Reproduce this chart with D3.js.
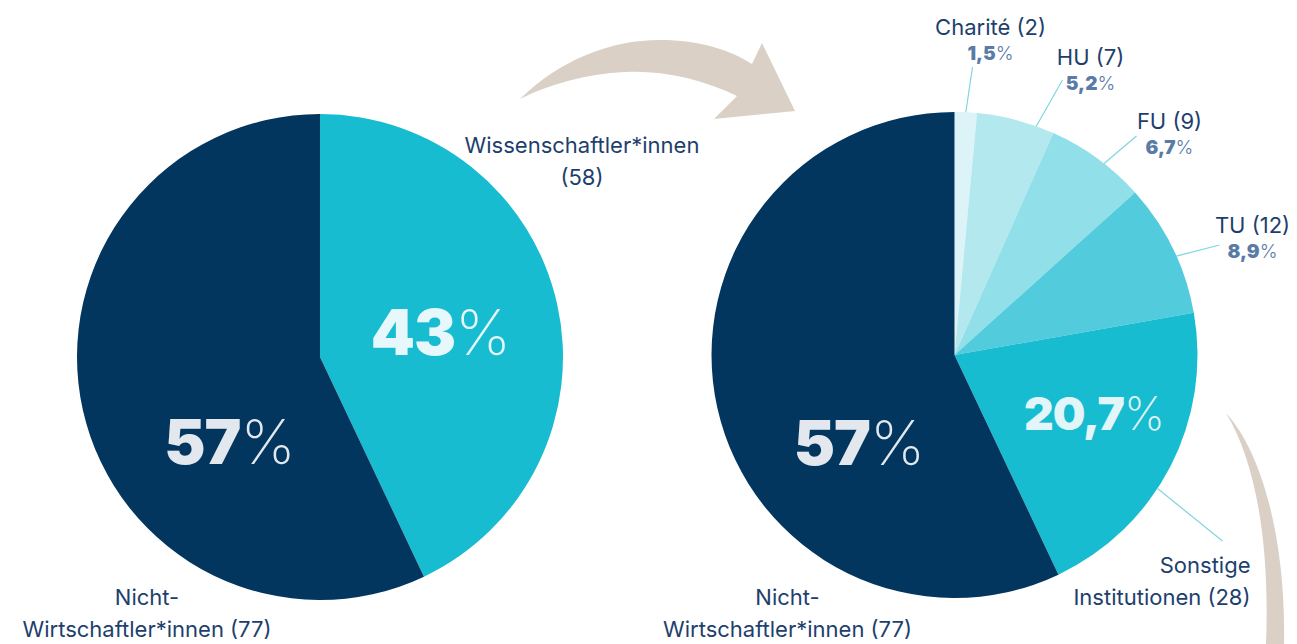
<!DOCTYPE html>
<html>
<head>
<meta charset="utf-8">
<script src="https://cdn.jsdelivr.net/npm/d3@7"></script>
<style>
  html, body { margin: 0; padding: 0; background: #fff; }
  svg { display: block; font-family: Inter, "Noto Sans", sans-serif; }
  .name { fill: #1e3f6d; font-size: 22px; }
  .small-pct { fill: #5b7ba7; font-size: 19px; }
  .big-pct { font-size: 63px; }
</style>
</head>
<body>
<svg id="chart" width="1297" height="644"></svg>
<script>
(function (d3) {

    /***** Data *****/
    var overviewNames = ["Wissenschaftler*innen", "Nicht-Wirtschaftler*innen"];
    var overviewCounts = [58, 77];

    var instNames = ["Charité", "HU", "FU", "TU", "Sonstige Institutionen", "Nicht-Wirtschaftler*innen"];
    var instCounts = [2, 7, 9, 12, 28, 77];

    /***** Configuration *****/
    var radius = 243;
    var leftCenter = [320, 357];
    var rightCenter = [954.5, 355];

    var overviewColors = ["#17bcd0", "#02365f"];
    var instColors = ["#dcf3f7", "#b3e8ef", "#91dfe9", "#52cbdc", "#17bcd0", "#02365f"];

    var svg = d3.select("#chart");

    /***** Decorative arrows *****/
    svg.append("path")
       .attr("d", "M520,99 C560,60 610,40 660,40 C700,40 730,50 752,64 L762,43 L795,111 L714,119 L737,96 C700,78 660,70 625,72 C585,74 550,84 520,99 Z")
       .attr("fill", "#dad0c5");
    svg.append("path")
       .attr("d", "M1226,413 C1262,452 1286,540 1284,644 L1266,644 C1270,545 1256,462 1226,413 Z")
       .attr("fill", "#dad0c5");

    var pie = d3.pie().sort(null).value(function (d) { return d; });
    var arc = d3.arc().innerRadius(0).outerRadius(radius);

    function fmtShare(v, total, digits) {
        return d3.format("." + digits + "f")(v / total * 100).replace(".", ",");
    }

    function bigLabel(g, text, x, y, color, size) {
        var t = g.append("text")
                 .attr("class", "big-pct")
                 .attr("x", x).attr("y", y)
                 .attr("text-anchor", "middle")
                 .attr("fill", color)
                 .style("font-size", size + "px");
        t.append("tspan").attr("font-weight", 900).attr("letter-spacing", "-1").text(text);
        t.append("tspan").attr("font-weight", 200).text("%");
    }

    function nameLabel(g, lines, x, y, anchor) {
        var t = g.append("text")
                 .attr("class", "name")
                 .attr("text-anchor", anchor || "middle");
        lines.forEach(function (line, i) {
            t.append("tspan").attr("x", x).attr("y", y + i * 32).text(line);
        });
    }

    /***** Left pie *****/
    var leftTotal = d3.sum(overviewCounts);
    var left = svg.append("g")
                  .attr("transform", "translate(" + leftCenter[0] + "," + leftCenter[1] + ")");
    left.selectAll("path")
        .data(pie(overviewCounts))
        .enter().append("path")
        .attr("d", arc)
        .attr("fill", function (d, i) { return overviewColors[i]; });

    bigLabel(left, fmtShare(overviewCounts[0], leftTotal, 0), 121, -2, "#e6f8fb", 63);
    bigLabel(left, fmtShare(overviewCounts[1], leftTotal, 0), -90, 107, "#e3e8ee", 62);
    nameLabel(left, ["Wissenschaftler*innen", "(" + overviewCounts[0] + ")"], 262, -204);
    nameLabel(left, ["Nicht-", "Wirtschaftler*innen (" + overviewCounts[1] + ")"], -173, 248);

    /***** Right pie *****/
    var rightTotal = d3.sum(instCounts);
    var right = svg.append("g")
                   .attr("transform", "translate(" + rightCenter[0] + "," + rightCenter[1] + ")");
    var instArcs = pie(instCounts);
    right.selectAll("path.slice")
         .data(instArcs)
         .enter().append("path")
         .attr("class", "slice")
         .attr("d", arc)
         .attr("fill", function (d, i) { return instColors[i]; });

    // small outside labels: [name x, name y, leader end x, leader end y, angle shift (deg)]
    var outside = [
        [36, -320, 18, -288, 0],
        [136, -290, 108, -275, 5],
        [215, -226, 182, -219, 2],
        [298, -122, 265, -110, 2],
        [250, 218, 268, 186, 6]
    ];
    outside.forEach(function (o, i) {
        var d = instArcs[i];
        var a = (d.startAngle + d.endAngle) / 2 + o[4] * Math.PI / 180;
        right.append("line")
             .attr("x1", Math.sin(a) * radius)
             .attr("y1", -Math.cos(a) * radius)
             .attr("x2", o[2]).attr("y2", o[3])
             .attr("stroke", "#7fd5e1")
             .attr("stroke-width", 1.2);
        if (i < 4) {
            right.append("text")
                 .attr("class", "name")
                 .attr("x", o[0]).attr("y", o[1])
                 .attr("text-anchor", "middle")
                 .text(instNames[i] + " (" + instCounts[i] + ")");
            var t = right.append("text")
                         .attr("class", "small-pct")
                         .attr("x", o[0]).attr("y", o[1] + 25)
                         .attr("text-anchor", "middle");
            t.append("tspan").attr("font-weight", 900).text(fmtShare(instCounts[i], rightTotal, 1));
            t.append("tspan").attr("font-weight", 300).text("%");
        } else {
            nameLabel(right, ["Sonstige", "Institutionen (" + instCounts[i] + ")"], 296, o[1], "end");
        }
    });

    bigLabel(right, fmtShare(instCounts[4], rightTotal, 1), 140, 75, "#e2f6f9", 46);
    bigLabel(right, fmtShare(instCounts[5], rightTotal, 0), -95, 110, "#e3e8ee", 62);
    nameLabel(right, ["Nicht-", "Wirtschaftler*innen (" + instCounts[5] + ")"], -167, 250);

})(d3);
</script>
</body>
</html>
